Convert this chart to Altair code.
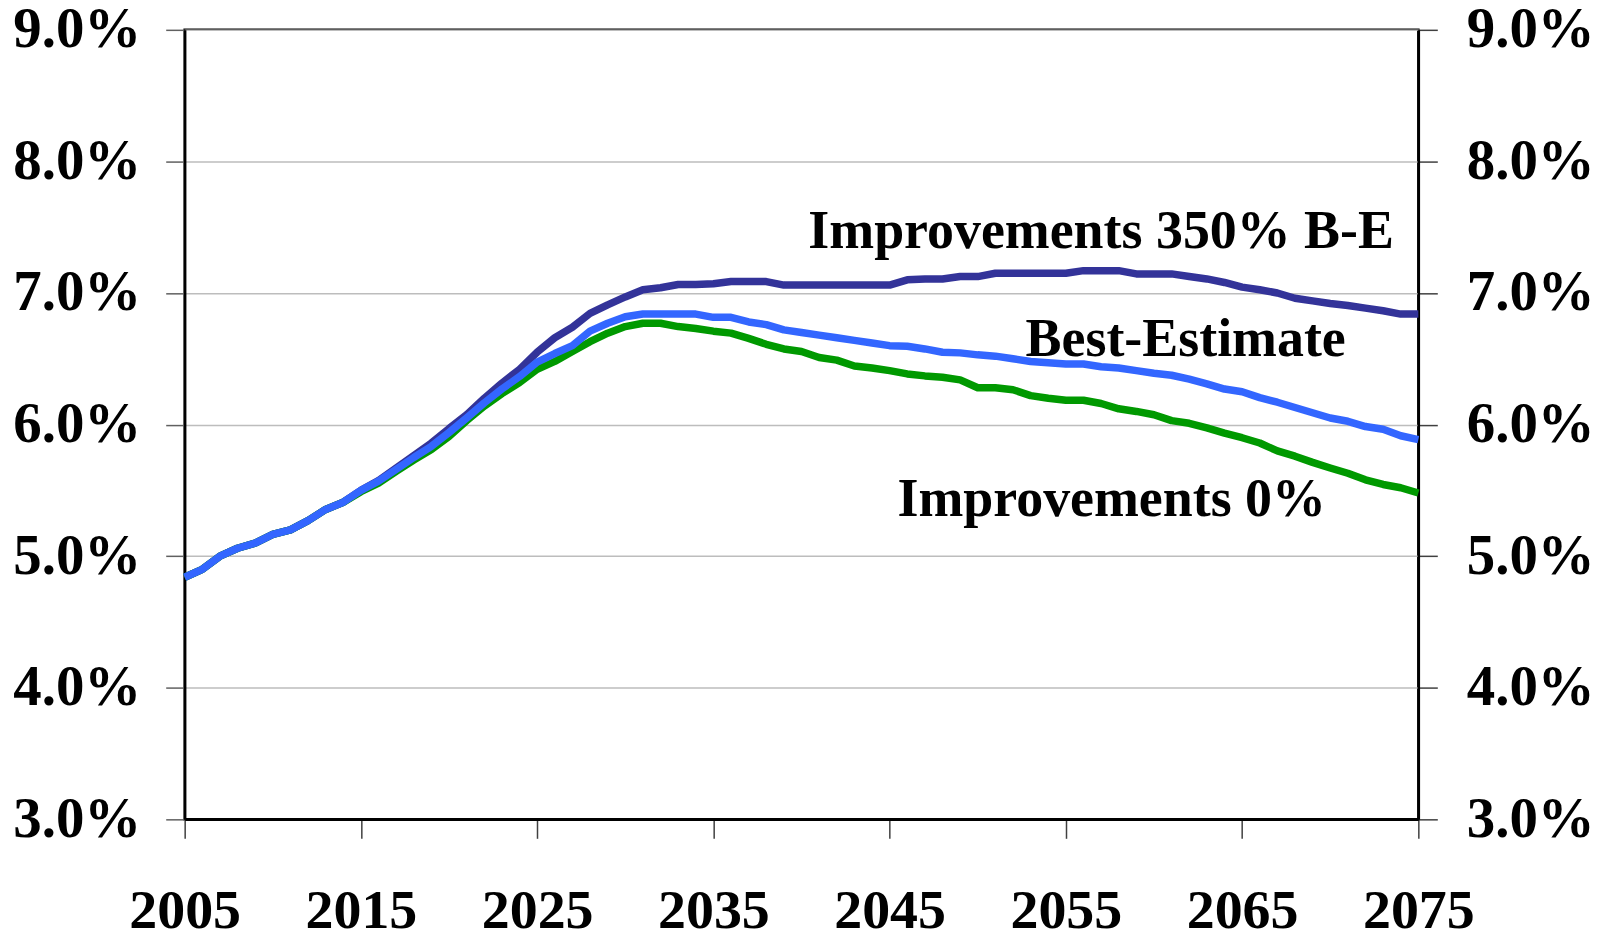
import altair as alt
import pandas as pd

years = list(range(2005, 2076))

best_estimate = [
    4.84, 4.90, 5.00, 5.06, 5.10, 5.165, 5.20, 5.27, 5.355, 5.41,
    5.50, 5.57, 5.66, 5.75, 5.835, 5.94, 6.05, 6.165, 6.27, 6.365,
    6.475, 6.54, 6.60, 6.71, 6.77, 6.82, 6.84, 6.84, 6.84, 6.84,
    6.815, 6.815, 6.78, 6.76, 6.72, 6.70, 6.68, 6.66, 6.64, 6.62,
    6.60, 6.595, 6.575, 6.55, 6.545, 6.53, 6.52, 6.50, 6.48, 6.47,
    6.46, 6.46, 6.44, 6.43, 6.41, 6.39, 6.375, 6.345, 6.31, 6.27,
    6.25, 6.205, 6.17, 6.13, 6.09, 6.05, 6.025, 5.985, 5.965, 5.915,
    5.885,
]

improvements_350 = [
    4.84, 4.90, 5.00, 5.06, 5.10, 5.165, 5.20, 5.27, 5.355, 5.41,
    5.50, 5.575, 5.67, 5.765, 5.86, 5.97, 6.075, 6.20, 6.315, 6.42,
    6.55, 6.66, 6.74, 6.845, 6.91, 6.97, 7.025, 7.04, 7.065, 7.065,
    7.07, 7.087, 7.087, 7.087, 7.06, 7.06, 7.06, 7.06, 7.06, 7.06,
    7.06, 7.10, 7.107, 7.107, 7.125, 7.125, 7.15, 7.15, 7.15, 7.15,
    7.15, 7.17, 7.17, 7.17, 7.145, 7.145, 7.145, 7.125, 7.107, 7.08,
    7.045, 7.025, 7.00, 6.96, 6.94, 6.92, 6.905, 6.885, 6.865, 6.84,
    6.84,
]

improvements_0 = [
    4.84, 4.90, 5.00, 5.06, 5.10, 5.165, 5.20, 5.27, 5.355, 5.41,
    5.49, 5.555, 5.645, 5.73, 5.81, 5.91, 6.03, 6.14, 6.235, 6.32,
    6.42, 6.48, 6.555, 6.63, 6.695, 6.745, 6.77, 6.77, 6.745, 6.73,
    6.71, 6.695, 6.655, 6.61, 6.575, 6.555, 6.51, 6.49, 6.445, 6.43,
    6.41, 6.385, 6.37, 6.36, 6.34, 6.28, 6.28, 6.265, 6.22, 6.20,
    6.185, 6.185, 6.16, 6.12, 6.10, 6.075, 6.03, 6.01, 5.975, 5.935,
    5.90, 5.86, 5.80, 5.76, 5.713, 5.67, 5.63, 5.58, 5.545, 5.52,
    5.48,
]

series_names = ["Improvements 350% B-E", "Improvements 0%", "Best-Estimate"]
series_values = [improvements_350, improvements_0, best_estimate]
series_colors = ["#333399", "#009900", "#3366FF"]

label_texts = ["Improvements 350% B-E", "Best-Estimate", "Improvements 0%"]
label_years = [2057.0, 2061.8, 2057.6]
label_values = [7.34, 6.52, 5.305]

x_ticks = list(range(2005, 2076, 10))
y_ticks = [3, 4, 5, 6, 7, 8, 9]

rows = []
for name, vals in zip(series_names, series_values):
    for yr, v in zip(years, vals):
        rows.append({"year": yr, "value": v, "series": name})
df = pd.DataFrame(rows)

labels_df = pd.DataFrame({"text": label_texts, "year": label_years, "value": label_values})

FONT = "Liberation Serif"
x_scale = alt.Scale(domain=[2005, 2075], nice=False, zero=False)
y_scale = alt.Scale(domain=[3, 9], nice=False, zero=False)
label_expr = "format(datum.value, '.1f') + '%'"

x_axis = alt.Axis(values=x_ticks, format="d", title=None, grid=False,
                  labelFont=FONT, labelFontSize=56, labelFontWeight="bold",
                  labelColor="black", labelBaseline="alphabetic", labelPadding=89,
                  tickSize=19, tickColor="#404040", tickWidth=1.5,
                  domainColor="black", domainWidth=2.5, labelFlush=False,
                  labelOverlap=False)

left_axis = alt.Axis(values=y_ticks, labelExpr=label_expr, title=None,
                     orient="left", grid=True, gridColor="#bdbdbd",
                     gridWidth=1.5, labelFont=FONT, labelFontSize=57,
                     labelFontWeight="bold", labelColor="black",
                     labelPadding=25, tickSize=19, tickColor="#606060",
                     tickWidth=1.5, domainColor="black", domainWidth=2.5,
                     labelFlush=False, labelOverlap=False)

right_axis_def = alt.Axis(values=y_ticks, labelExpr=label_expr, title=None,
                          orient="right", grid=False, labelFont=FONT, labelFontSize=57,
                          labelFontWeight="bold", labelColor="black", labelPadding=29,
                          tickSize=19, tickColor="#404040", tickWidth=1.5,
                          domainColor="black", domainWidth=2.5, labelFlush=False,
                          labelOverlap=False)

x_enc = alt.X("year:Q", scale=x_scale, axis=x_axis)
y_left = alt.Y("value:Q", scale=y_scale, axis=left_axis)

lines = []
for name, color in zip(series_names, series_colors):
    lines.append(
        alt.Chart(df).transform_filter(alt.datum.series == name)
        .mark_line(color=color, strokeWidth=7.5, strokeJoin="round")
        .encode(x=x_enc, y=y_left)
    )

texts = alt.Chart(labels_df).mark_text(
    font=FONT, fontSize=54, fontWeight="bold", color="black",
    align="center", baseline="alphabetic",
).encode(x=x_enc, y=y_left, text="text:N")

right_layer = alt.Chart(df).mark_line(strokeOpacity=0).encode(
    x=x_enc,
    y=alt.Y("value:Q", scale=y_scale, axis=right_axis_def),
    detail="series:N",
)

left_layer = alt.layer(*lines, texts)
chart = alt.layer(left_layer, right_layer).resolve_scale(y="independent").properties(
    width=1236, height=791,
    autosize="none",
    background="white",
    padding={"left": 177, "top": 21, "right": 180, "bottom": 114},
).configure_view(stroke="black", strokeWidth=2.5)

chart.save("out.html", embed_options={"renderer": "svg", "actions": False})
